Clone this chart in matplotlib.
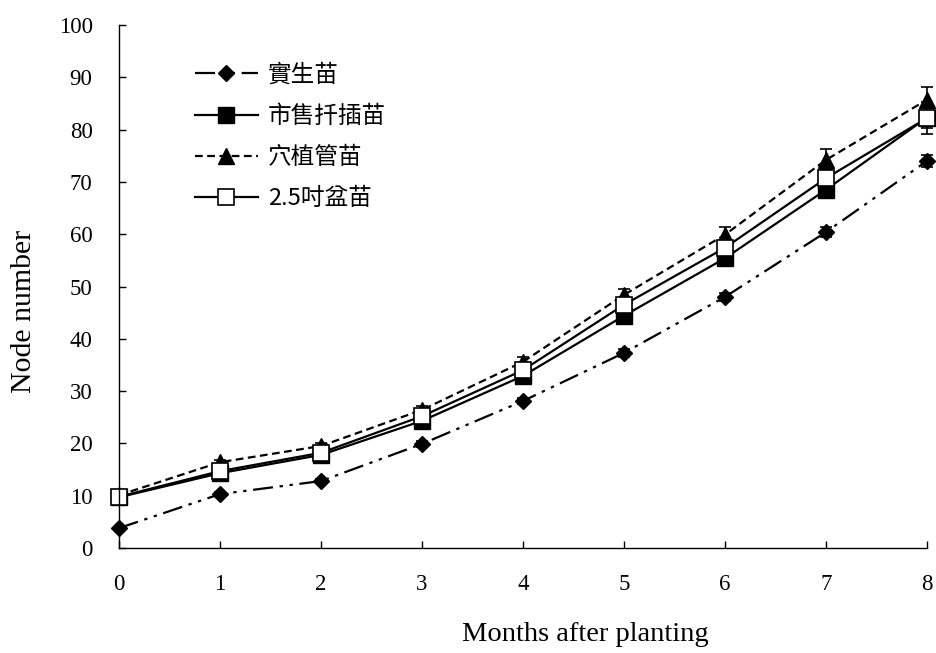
import matplotlib.pyplot as plt

months = [0, 1, 2, 3, 4, 5, 6, 7, 8]

seedling = [3.8, 10.3, 12.8, 19.9, 28.1, 37.3, 48.0, 60.4, 74.0]
seedling_err = [0.3, 0.4, 0.4, 0.5, 0.6, 0.7, 0.8, 1.0, 1.2]

cutting = [9.7, 14.3, 17.8, 24.3, 32.9, 44.4, 55.4, 68.5, 82.3]
cutting_err = [0.3, 0.4, 0.5, 0.6, 0.8, 1.0, 1.2, 1.5, 2.0]

plug = [10.1, 16.4, 19.5, 26.4, 35.6, 48.4, 59.9, 74.2, 85.7]
plug_err = [0.3, 0.5, 0.6, 0.8, 1.0, 1.2, 1.5, 2.0, 2.5]

pot = [9.8, 14.7, 18.2, 25.2, 34.0, 46.5, 57.4, 70.7, 82.2]
pot_err = [0.3, 0.4, 0.5, 0.6, 0.8, 1.0, 1.3, 1.6, 3.0]

labels = ["實生苗", "市售扦插苗", "穴植管苗", "2.5吋盆苗"]

plt.rcParams['font.family'] = ['Liberation Serif', 'DejaVu Serif']

fig = plt.figure(figsize=(9.36, 6.53), dpi=100)
ax = fig.add_axes([0.1271, 0.1608, 0.8632, 0.8009])

common = dict(color='black', ecolor='black', capsize=4, elinewidth=1.2,
              capthick=1.2, clip_on=False, linewidth=1.6)

h1 = ax.errorbar(months, seedling, yerr=seedling_err, marker='D', markersize=8,
                 markerfacecolor='black', markeredgecolor='black',
                 dashes=(9, 3, 1.5, 3, 1.5, 3), **common)
h2 = ax.errorbar(months, cutting, yerr=cutting_err, marker='s', markersize=11,
                 markerfacecolor='black', markeredgecolor='black',
                 linestyle='-', **common)
h3 = ax.errorbar(months, plug, yerr=plug_err, marker='^', markersize=11,
                 markerfacecolor='black', markeredgecolor='black',
                 dashes=(3.5, 2), **common)
h4 = ax.errorbar(months, pot, yerr=pot_err, marker='s', markersize=12,
                 markerfacecolor='white', markeredgecolor='black',
                 markeredgewidth=1.2, linestyle='-', **common)

ax.set_xlim(0, 8)
ax.set_ylim(0, 100)
ax.set_xticks(months)
ax.set_yticks(range(0, 101, 10))
ax.tick_params(direction='in', length=5, width=1, labelsize=16.5, pad=19)
ax.spines['top'].set_visible(False)
ax.spines['right'].set_visible(False)
ax.spines['left'].set_linewidth(1)
ax.spines['bottom'].set_linewidth(1)

ax.set_xlabel("Months after planting", fontsize=20.5, va='top')
ax.xaxis.set_label_coords(0.577, -0.1415)
ax.set_ylabel("Node number", fontsize=21.5)
ax.yaxis.set_label_coords(-0.1015, 0.453)

leg = ax.legend([h1[0], h2[0], h3[0], h4[0]], labels,
                loc='upper left', bbox_to_anchor=(0.094, 0.926),
                borderaxespad=0, borderpad=0,
                frameon=False, handlelength=2.67, labelspacing=0.77,
                handletextpad=0.42,
                prop={'family': ['Noto Sans CJK TC', 'DejaVu Sans'], 'size': 17})

fig.savefig("out.png", dpi=100)
